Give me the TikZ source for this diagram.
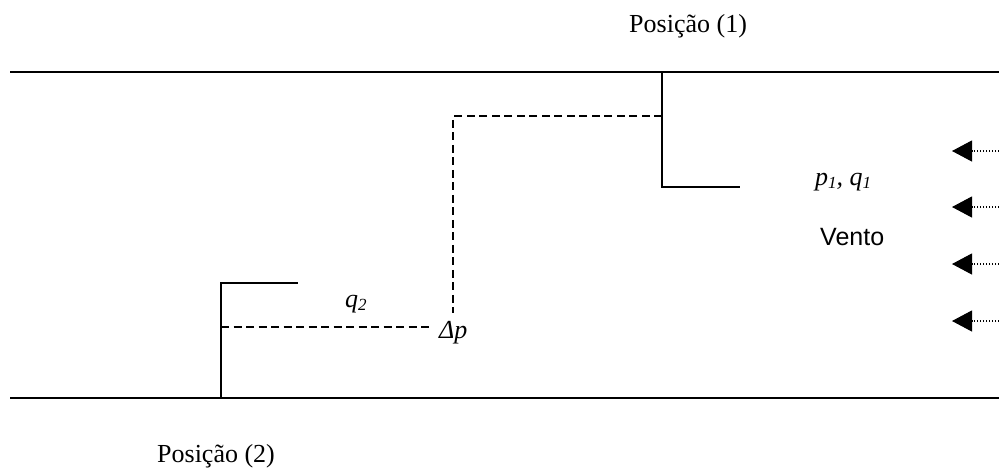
\documentclass[tikz,border=0pt]{standalone}
\usepackage{fontspec}
\setmainfont{Liberation Serif}
\newfontfamily\ventofont{Liberation Sans}
\usetikzlibrary{arrows.meta,positioning}
\newcommand{\idx}[1]{\raisebox{-0.12em}{\fontsize{17}{17}\selectfont #1}}

\begin{document}
\begin{tikzpicture}[x=1pt,y=-1pt,
    wall/.style={line width=2pt},
    probe/.style={line width=2pt},
    link/.style={line width=1.8pt,dash pattern=on 8pt off 4.5pt},
    wind/.style={line width=1.1pt,dash pattern=on 1pt off 2pt,-{Triangle[length=20pt,width=21pt]}},
    lbl/.style={font=\fontsize{26}{30}\selectfont,inner sep=0pt,anchor=base west}]
\useasboundingbox (0,0) rectangle (999,469);
\draw[wall] (10,72) -- (999,72);
\draw[wall] (10,398) -- (999,398);
\coordinate (p1mid) at (662,116);
\coordinate (p2mid) at (221,327);
\draw[probe] (662,72) -- (662,187) -- (740,187);
\draw[probe] (221,398) -- (221,283) -- (298,283);
\node[lbl] (pos1) at (629,32) {Posição (1)};
\node[lbl] (pos2) at (157,462) {Posição (2)};
\node[lbl] (pqone) at (815,185) {\itshape p\idx{1}, q\idx{1}};
\node[lbl] (qtwo) at (345,307) {\itshape q\idx{2}};
\node[lbl,font=\ventofont\fontsize{25}{30}\selectfont] (vento) at (820,245) {Vento};
\node[lbl,inner sep=8pt] (dp) at (431,338) {\itshape Δp};
\draw[link] (p1mid) -| (dp.north);
\draw[link] (p2mid) -- (p2mid -| dp.west);
\foreach \y in {151,207,264,321}
    \draw[wind] (999,\y) -- (952,\y);
\end{tikzpicture}
\end{document}
